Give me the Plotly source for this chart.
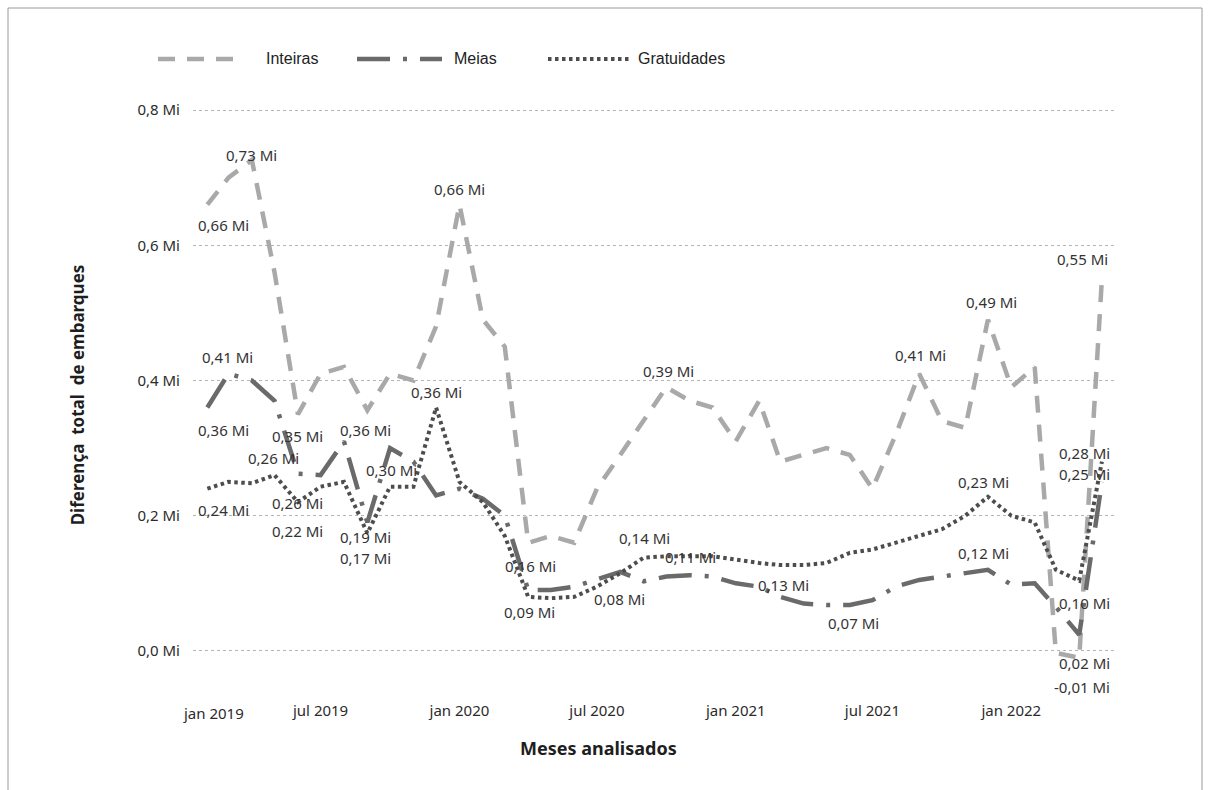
import pandas as pd
import plotly.graph_objects as go

# Monthly differences in boardings (millions), Feb 2019 .. May 2022
months = pd.date_range("2019-02-01", "2022-05-01", freq="MS")

inteiras = [
    0.66, 0.70, 0.726, 0.56, 0.35, 0.41, 0.42, 0.356, 0.41, 0.40, 0.48,
    0.66, 0.49, 0.45, 0.16, 0.17, 0.16, 0.24, 0.29, 0.34, 0.39, 0.37, 0.36,
    0.31, 0.37, 0.28, 0.29, 0.30, 0.29, 0.24, 0.32, 0.41, 0.34, 0.33, 0.49,
    0.39, 0.42, -0.003, -0.01, 0.55,
]
meias = [
    0.36, 0.41, 0.40, 0.37, 0.262, 0.26, 0.31, 0.19, 0.30, 0.28, 0.23,
    0.24, 0.225, 0.20, 0.09, 0.09, 0.095, 0.105, 0.117, 0.103, 0.11, 0.112, 0.11,
    0.10, 0.095, 0.08, 0.07, 0.068, 0.068, 0.075, 0.095, 0.105, 0.11, 0.115, 0.12,
    0.098, 0.10, 0.065, 0.024, 0.25,
]
gratuidades = [
    0.24, 0.25, 0.248, 0.26, 0.22, 0.243, 0.25, 0.174, 0.243, 0.243, 0.36,
    0.25, 0.22, 0.17, 0.08, 0.078, 0.08, 0.095, 0.115, 0.138, 0.14, 0.14, 0.14,
    0.135, 0.13, 0.127, 0.127, 0.13, 0.145, 0.15, 0.16, 0.17, 0.18, 0.20, 0.228,
    0.20, 0.19, 0.12, 0.104, 0.28,
]

x_tick_dates = ["2019-07-01", "2020-01-01", "2020-07-01", "2021-01-01", "2021-07-01", "2022-01-01"]
x_tick_labels = ["jul 2019", "jan 2020", "jul 2020", "jan 2021", "jul 2021", "jan 2022"]
first_tick_label = "jan 2019"
y_tick_values = [0.0, 0.2, 0.4, 0.6, 0.8]
y_tick_labels = ["0,0 Mi", "0,2 Mi", "0,4 Mi", "0,6 Mi", "0,8 Mi"]

# ---- layout geometry (pixels) ----
W, H = 1210, 790
ML, MR, MT, MB = 193, 93, 95, 95
PW, PH = W - ML - MR, H - MT - MB


def px_x(px):
    return (px - ML) / PW


def px_y(py):
    return 1 - (py - MT) / PH


TEXT = "#2b2b2b"
BASE_FONT = "Noto Sans, Open Sans, sans-serif"
LABEL_FONT = dict(family=BASE_FONT, size=15, color="#333333")

styles = {
    "Inteiras": dict(color="#a9a9a9", width=4.5, dash="17px,12px"),
    "Meias": dict(color="#6a6a6a", width=4.5, dash="33px,13px,4px,13px"),
    "Gratuidades": dict(color="#4d4d4d", width=4, dash="3.5px,3.5px"),
}
values = {"Inteiras": inteiras, "Meias": meias, "Gratuidades": gratuidades}

# data labels: (month index, x offset px, y offset px)
label_spots = {
    "Inteiras": [(0, 16, -20), (2, 0, 5), (4, 0, -22), (7, -2, -20), (11, 0, 16),
                 (14, 2, -23), (20, 2, 16), (31, 1, 19), (34, 4, 18), (38, 3, -29),
                 (39, -19, 20)],
    "Meias": [(0, 16, -22), (1, -1, 17), (4, 0, -29), (7, -2, -15), (8, 1, -22),
              (14, 1, -22), (21, 1, 18), (28, 4, -18), (34, -4, 17), (38, 5, -28),
              (39, -17, 8)],
    "Gratuidades": [(0, 16, -21), (3, -1, 17), (4, 0, -29), (7, -2, -25), (10, 0, 16),
                    (16, 45, -2), (19, 1, 20), (25, 3, -20), (34, -4, 15), (38, 5, -22),
                    (39, -17, 9)],
}


def mi(v):
    return f"{v:.2f}".replace(".", ",") + " Mi"


fig = go.Figure()
for name, vals in values.items():
    fig.add_trace(go.Scatter(
        x=months, y=vals, mode="lines", name=name,
        line=styles[name], showlegend=False, cliponaxis=False,
    ))

annotations = []
for name, spots in label_spots.items():
    vals = values[name]
    for idx, dx, dy in spots:
        annotations.append(dict(
            x=months[idx], y=vals[idx], xref="x", yref="y",
            text=mi(vals[idx]), showarrow=False,
            xshift=dx, yshift=dy, font=LABEL_FONT,
        ))

# first month label sits at the left edge of the axis
annotations.append(dict(
    x=0, y=0, xref="paper", yref="paper", xanchor="left", yanchor="top",
    xshift=-12, yshift=-6, text=first_tick_label, showarrow=False,
    font=dict(family=BASE_FONT, size=15, color=TEXT),
))

# x-axis title, centred on the visual
annotations.append(dict(
    x=px_x(598), y=px_y(748), xref="paper", yref="paper",
    xanchor="center", yanchor="middle",
    text="<b>Meses analisados</b>", showarrow=False,
    font=dict(family=BASE_FONT, size=18, color="#1e1e1e"),
))

# legend drawn along the top
legend_items = [
    ("Inteiras", 158, 238, 264),
    ("Meias", 357, 442, 452),
    ("Gratuidades", 548, 631, 636),
]
shapes = []
ly = px_y(59)
for name, x0, x1, tx in legend_items:
    st = styles[name]
    shapes.append(dict(
        type="line", xref="paper", yref="paper",
        x0=px_x(x0), x1=px_x(x1), y0=ly, y1=ly,
        line=dict(color=st["color"], width=st["width"], dash=st["dash"]),
    ))
    annotations.append(dict(
        x=px_x(tx), y=ly, xref="paper", yref="paper",
        xanchor="left", yanchor="middle",
        text=name, showarrow=False,
        font=dict(family="Liberation Sans, Arial, sans-serif", size=16, color="#222222"),
    ))

# frame around the visual
shapes.append(dict(
    type="rect", xref="paper", yref="paper",
    x0=px_x(8), x1=px_x(1202), y0=px_y(805), y1=px_y(8),
    line=dict(color="#9a9a9a", width=1), fillcolor="rgba(0,0,0,0)",
))

fig.update_layout(
    width=W, height=H,
    margin=dict(l=ML, r=MR, t=MT, b=MB),
    paper_bgcolor="white", plot_bgcolor="white",
    showlegend=False,
    shapes=shapes, annotations=annotations,
    font=dict(family=BASE_FONT, size=15, color=TEXT),
)

fig.update_xaxes(
    type="date",
    range=["2019-01-13", "2022-05-21"],
    tickvals=x_tick_dates, ticktext=x_tick_labels,
    showgrid=False, zeroline=False, showline=False, ticks="",
    ticklabelstandoff=5,
    tickfont=dict(family=BASE_FONT, size=15, color=TEXT),
)

fig.update_yaxes(
    range=[-(695 - 651) / 675, 0.8 + (110 - 95) / 675],
    tickvals=y_tick_values, ticktext=y_tick_labels,
    showgrid=True, gridcolor="#b5b5b5", griddash="dot", gridwidth=1,
    zeroline=False, showline=False, ticks="",
    ticklabelstandoff=12,
    tickfont=dict(family=BASE_FONT, size=15, color=TEXT),
    title=dict(
        text="<b>Diferença  total  de embarques</b>", standoff=48,
        font=dict(family=BASE_FONT, size=17, color="#1e1e1e"),
    ),
)

fig.write_html("out.html")
